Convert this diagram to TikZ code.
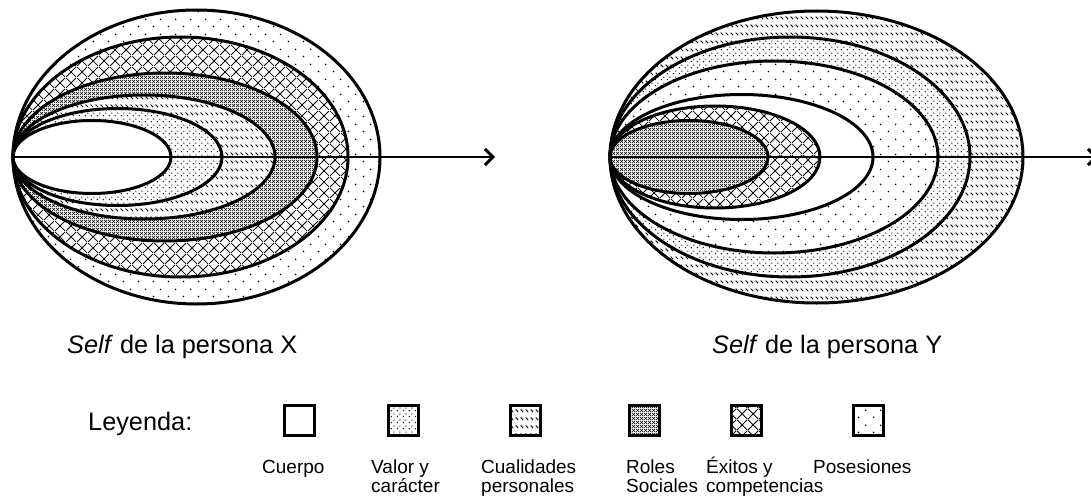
\documentclass[tikz,border=0pt]{standalone}
\usepackage{fontspec}
\setmainfont{Liberation Sans}
\usetikzlibrary{patterns,arrows.meta}

% fill patterns for the six components of the self
\pgfdeclarepatternformonly{sparsedots}{\pgfqpoint{0pt}{0pt}}{\pgfqpoint{15pt}{15pt}}{\pgfqpoint{15pt}{15pt}}{%
  \pgfpathcircle{\pgfqpoint{3.75pt}{3.75pt}}{0.95pt}%
  \pgfpathcircle{\pgfqpoint{11.25pt}{11.25pt}}{0.95pt}%
  \pgfusepath{fill}}
\pgfdeclarepatternformonly{densedots}{\pgfqpoint{0pt}{0pt}}{\pgfqpoint{6pt}{6pt}}{\pgfqpoint{6pt}{6pt}}{%
  \pgfpathcircle{\pgfqpoint{1.5pt}{1.5pt}}{0.8pt}%
  \pgfpathcircle{\pgfqpoint{4.5pt}{4.5pt}}{0.8pt}%
  \pgfusepath{fill}}
\pgfdeclarepatternformonly{dashhatch}{\pgfqpoint{0pt}{0pt}}{\pgfqpoint{5pt}{8pt}}{\pgfqpoint{5pt}{8pt}}{%
  \pgfsetlinewidth{1pt}%
  \pgfpathmoveto{\pgfqpoint{0.8pt}{7.2pt}}%
  \pgfpathlineto{\pgfqpoint{3.8pt}{4.2pt}}%
  \pgfusepath{stroke}}
\pgfdeclarepatternformonly{smallcross}{\pgfqpoint{0pt}{0pt}}{\pgfqpoint{4pt}{4pt}}{\pgfqpoint{4pt}{4pt}}{%
  \pgfsetlinewidth{0.7pt}%
  \pgfpathmoveto{\pgfqpoint{0pt}{0pt}}\pgfpathlineto{\pgfqpoint{4pt}{4pt}}%
  \pgfpathmoveto{\pgfqpoint{0pt}{4pt}}\pgfpathlineto{\pgfqpoint{4pt}{0pt}}%
  \pgfusepath{stroke}}
\pgfdeclarepatternformonly{bigcross}{\pgfqpoint{0pt}{0pt}}{\pgfqpoint{11pt}{11pt}}{\pgfqpoint{11pt}{11pt}}{%
  \pgfsetlinewidth{0.85pt}%
  \pgfpathmoveto{\pgfqpoint{0pt}{0pt}}\pgfpathlineto{\pgfqpoint{11pt}{11pt}}%
  \pgfpathmoveto{\pgfqpoint{0pt}{11pt}}\pgfpathlineto{\pgfqpoint{11pt}{0pt}}%
  \pgfusepath{stroke}}

% a ring anchored at its left tip: #1 = tip x, #2 = half width, #3 = half height, #4 = fill style
\newcommand\selffill[4]{%
  \path[#4] ({#1+#2},157) ellipse [x radius=#2pt, y radius=#3pt];}
\newcommand\selfline[3]{%
  \draw[ringline] ({#1+#2},157) ellipse [x radius=#2pt, y radius=#3pt];}
% two stacked lines whose baseline is that of the first line
\newcommand\twolines[2]{\begin{tabular}[t]{@{}l@{}}#1\\#2\end{tabular}}

\begin{document}
\begin{tikzpicture}[x=1pt,y=-1pt,
  ringline/.style={line width=3pt},
  fCuerpo/.style={fill=white},
  fValor/.style={preaction={fill=white},pattern=densedots},
  fCualidades/.style={preaction={fill=white},pattern=dashhatch},
  fRoles/.style={preaction={fill=white},pattern=smallcross},
  fExitos/.style={preaction={fill=white},pattern=bigcross},
  fPosesiones/.style={preaction={fill=white},pattern=sparsedots},
  axisline/.style={line width=2pt,-{Straight Barb[length=8pt,width=16pt,line width=3pt]}},
  caption/.style={font=\fontsize{25.3}{30}\selectfont,anchor=base west,inner sep=0pt},
  legbox/.style={draw,line width=3pt,minimum width=30pt,minimum height=30pt,inner sep=0pt},
  legtext/.style={font=\fontsize{19}{18}\selectfont,anchor=base west,inner sep=0pt}]
\useasboundingbox[fill=white] (0,0) rectangle (1091,495);

% ---- self of person X ----
\selffill{13}{183.5}{147}{fPosesiones}
\selffill{13}{167.5}{120}{fExitos}
\selffill{13}{152}{84}{fRoles}
\selffill{13}{131}{62}{fCualidades}
\selffill{13}{104.5}{48.5}{fValor}
\selffill{13}{79}{36.5}{fCuerpo}
\foreach \a/\b in {183.5/147,167.5/120,152/84,131/62,104.5/48.5,79/36.5}
  {\selfline{13}{\a}{\b}}
\coordinate (xtip) at (13,157);
\coordinate (xend) at (495,157);
\draw[axisline] (xtip) -- (xend);

% ---- self of person Y ----
\selffill{610}{206.5}{146}{fCualidades}
\selffill{610}{180}{120}{fValor}
\selffill{610}{164}{96}{fPosesiones}
\selffill{610}{131.5}{62.5}{fCuerpo}
\selffill{610}{105}{51}{fExitos}
\selffill{610}{79}{36.5}{fRoles}
\foreach \a/\b in {206.5/146,180/120,164/96,131.5/62.5,105/51,79/36.5}
  {\selfline{610}{\a}{\b}}
\coordinate (ytip) at (610,157);
\coordinate (yend) at (1098,157);
\draw[axisline] (ytip) -- (yend);

% ---- captions ----
\node[caption] (capX) at (67,353) {\textit{Self} de la persona X};
\node[caption] (capY) at (712,353) {\textit{Self} de la persona Y};

% ---- legend ----
\node[caption] (leyenda) at (88,430) {Leyenda:};
\node[legbox,fCuerpo]     (kCuerpo)     at (299.5,420) {};
\node[legbox,fValor]      (kValor)      at (403.5,420) {};
\node[legbox,fCualidades] (kCualidades) at (525,420) {};
\node[legbox,fRoles]      (kRoles)      at (644,420) {};
\node[legbox,fExitos]     (kExitos)     at (746.5,420) {};
\node[legbox,fPosesiones] (kPosesiones) at (868,420) {};

\node[legtext] (tCuerpo)     at (262,473) {Cuerpo};
\node[legtext] (tValor)      at (371,473) {\twolines{Valor y}{carácter}};
\node[legtext] (tCualidades) at (481,473) {\twolines{Cualidades}{personales}};
\node[legtext] (tRoles)      at (626,473) {\twolines{Roles}{Sociales}};
\node[legtext] (tExitos)     at (706,473) {\twolines{Éxitos y}{competencias}};
\node[legtext] (tPosesiones) at (813,473) {Posesiones};
\end{tikzpicture}
\end{document}
